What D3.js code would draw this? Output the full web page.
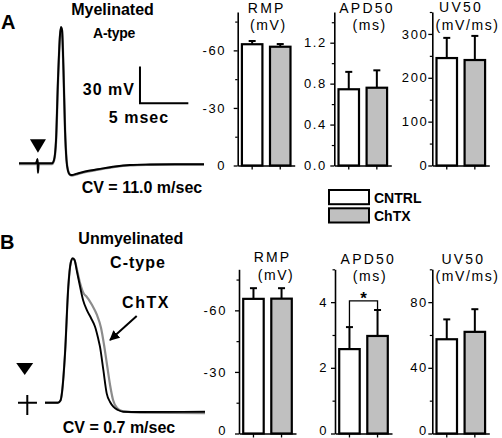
<!DOCTYPE html>
<html><head><meta charset="utf-8">
<script src="https://cdn.jsdelivr.net/npm/d3@7"></script>
<style>
body{margin:0;background:#fff}
svg{display:block;font-family:"Liberation Sans",Arial,Helvetica,sans-serif}
</style></head><body>
<svg id="c" width="502" height="438"></svg>
<script>
// ---------------- DATA ----------------
const groups = ["CNTRL", "ChTX"];

// Panel A (myelinated A-type) bar values: mean and SEM
const rmpA = [-63.2, -61.9], rmpA_err = [1.7, 1.4];
const apdA = [0.745, 0.76], apdA_err = [0.17, 0.17];
const uvA = [245, 240.5], uvA_err = [46, 55];
// Panel B (unmyelinated C-type)
const rmpB = [-65.6, -65.7], rmpB_err = [5.2, 5.1];
const apdB = [2.57, 2.97], apdB_err = [0.67, 0.79];
const uvB = [57.4, 61.9], uvB_err = [12.1, 13.8];

// Axis ticks
const rmpTicks = [0, -30, -60], rmpMinor = [-15, -45, -75];
const apdATicks = [0, 0.4, 0.8, 1.2], apdAMinor = [0.2, 0.6, 1.0, 1.4];
const uvATicks = [0, 100, 200, 300], uvAMinor = [50, 150, 250, 350];
const apdBTicks = [0, 2, 4], apdBMinor = [1, 3, 5];
const uvBTicks = [0, 40, 80], uvBMinor = [20, 60, 100];

// Action potential traces: [time (ms), voltage rel. rest (mV)]
const traceA_ctl = [[0,0],[1.76,0],[1.92,3.5],[1.96,-7.7],[2.03,0],[3.41,0],[3.62,2.7],[3.83,19],[4.03,68],[4.24,105],[4.34,111.4],[4.45,109],[4.60,76],[4.76,27],[4.91,2.7],[5.07,-6.3],[5.27,-9.2],[5.48,-9.6],[5.89,-8.7],[6.83,-6.7],[8.17,-4.9],[9.93,-2.6],[11.48,-1.4],[13.55,-1.0],[16.13,-0.8],[19.13,-0.8]];
const traceA_chtx = [[0,-0.6],[1.76,-0.6],[1.92,3],[1.96,-7.5],[2.03,-0.6],[3.41,-0.6],[3.62,2.2],[3.83,18],[4.03,66],[4.24,104],[4.34,110.5],[4.45,108.5],[4.60,76],[4.76,28],[4.91,3.2],[5.07,-6],[5.27,-9.4],[5.48,-10.0],[5.89,-9.2],[6.83,-7.2],[8.17,-5.2],[9.93,-2.9],[11.48,-1.7],[13.55,-1.2],[16.13,-1.0],[19.13,-1.0]];
const traceB_ctl = [[0,0],[1.08,0],[1.29,1.8],[1.42,8.9],[1.67,41.4],[1.94,96.4],[2.14,116.4],[2.31,120.3],[2.46,118.9],[2.67,108.9],[2.92,96.7],[3.17,85.6],[3.48,77.3],[3.83,70.6],[4.17,63.3],[4.42,53.9],[4.58,46.7],[4.86,27.3],[5.14,7.8],[5.42,0.6],[5.69,-3.3],[6.08,-6.1],[6.53,-7.5],[7.92,-7.75],[13.33,-7.5]];
const traceB_chtx = [[0,0],[1.08,0],[1.29,1.8],[1.42,8.9],[1.67,41.4],[1.94,96.4],[2.14,116.4],[2.31,120.3],[2.46,118.9],[2.67,110.6],[2.92,99.8],[3.25,90.6],[3.42,88.9],[3.92,81.4],[4.33,73.1],[4.67,62.3],[4.92,48.1],[5.17,31.4],[5.42,14.8],[5.67,2.25],[6.0,-4.4],[6.5,-7.3],[7.92,-8.3],[13.33,-8.8]];

// ---------------- DRAW ----------------
const svg = d3.select("#c");
const BAR_GRAY = "#c0c0c0";
const TRACE_GRAY = "#8c8c8c";

function txt(x, y, s, opt) {
  opt = opt || {};
  return svg.append("text").attr("x", x).attr("y", y).text(s)
    .attr("font-size", opt.size || 16)
    .attr("font-weight", opt.weight || "bold")
    .attr("text-anchor", opt.anchor || "start")
    .style("letter-spacing", (opt.ls || 0) + "px")
    .attr("fill", "#000");
}

// ---- Panel A trace ----
const xA = d3.scaleLinear().domain([0, 19.13]).range([19, 204]);
const yA = d3.scaleLinear().domain([0, 30]).range([163.3, 126.6]);
const lineA = d3.line().x(d => xA(d[0])).y(d => yA(d[1])).curve(d3.curveMonotoneX);
svg.append("path").attr("d", lineA(traceA_chtx)).attr("fill", "none").attr("stroke", TRACE_GRAY).attr("stroke-width", 2.4);
svg.append("path").attr("d", lineA(traceA_ctl)).attr("fill", "none").attr("stroke", "#000").attr("stroke-width", 1.9);

// stimulus triangle A
(function(){
  const cx = xA(1.96), tip = yA(8.7), top = yA(19.6);
  svg.append("path").attr("d", `M${cx-8},${top}L${cx+8},${top}L${cx},${tip}Z`).attr("fill", "#000");
})();

// scale bar (5 ms, 30 mV)
(function(){
  const t0 = 12.51, v0 = 49.05;
  svg.append("path")
    .attr("d", `M${xA(t0)},${yA(v0+30)}V${yA(v0)}H${xA(t0+5)}`)
    .attr("fill", "none").attr("stroke", "#000").attr("stroke-width", 2);
})();
txt(135, 95, "30 mV", {anchor: "end", ls: 1});
txt(139, 123, "5 msec", {anchor: "middle", ls: 1});

txt(1, 28.5, "A", {size: 20});
txt(112.5, 15, "Myelinated", {anchor: "middle"});
txt(114, 38.3, "A-type", {anchor: "middle", size: 14, ls: -0.3});
txt(81.7, 193.3, "CV = 11.0 m/sec");

// ---- Panel B trace ----
const xB = d3.scaleLinear().domain([0, 13.33]).range([45, 205]);
const yB = d3.scaleLinear().domain([0, 100]).range([402.7, 282.7]);
const lineB = d3.line().x(d => xB(d[0])).y(d => yB(d[1])).curve(d3.curveMonotoneX);
svg.append("path").attr("d", lineB(traceB_chtx)).attr("fill", "none").attr("stroke", TRACE_GRAY).attr("stroke-width", 2.2);
svg.append("path").attr("d", lineB(traceB_ctl)).attr("fill", "none").attr("stroke", "#000").attr("stroke-width", 1.9);

// stimulus cross + triangle B
svg.append("path")
  .attr("d", `M${xB(-1.475)},${yB(6.4)}V${yB(-10.25)}M${xB(-2.25)},${yB(0)}H${xB(-0.67)}`)
  .attr("fill", "none").attr("stroke", "#000").attr("stroke-width", 2);
(function(){
  const cx = xB(-1.69), tip = yB(23.1), top = yB(33);
  svg.append("path").attr("d", `M${cx-8.5},${top}L${cx+8.5},${top}L${cx},${tip}Z`).attr("fill", "#000");
})();

// arrow to ChTX trace
svg.append("defs").append("marker").attr("id", "ah")
  .attr("viewBox", "0 0 10 10").attr("refX", 9).attr("refY", 5)
  .attr("markerWidth", 5).attr("markerHeight", 5).attr("orient", "auto")
  .append("path").attr("d", "M0,0L10,5L0,10Z").attr("fill", "#000");
svg.append("line")
  .attr("x1", xB(7.64)).attr("y1", yB(72.25)).attr("x2", xB(5.42)).attr("y2", yB(52.25))
  .attr("stroke", "#000").attr("stroke-width", 2).attr("marker-end", "url(#ah)");

txt(0, 248.5, "B", {size: 20});
txt(130.8, 244, "Unmyelinated", {anchor: "middle"});
txt(138, 268.3, "C-type", {anchor: "middle", ls: 1});
txt(146, 308.3, "ChTX", {anchor: "middle", ls: 1.5});
txt(119, 433.3, "CV = 0.7 m/sec", {anchor: "middle"});

// ---- Bar panels ----
const panels = [
  {vals: rmpA, err: rmpA_err, ticks: rmpTicks, minor: rmpMinor, dom: [0, -80], ax: 237.7, y0: 165.5, y1: 12, pad: 7.5, fmt: d => String(d),
   t1: ["RMP", 266.7, 13.3], t2: ["(mV)", 268.3, 29.5], dy: "0.32em"},
  {vals: apdA, err: apdA_err, ticks: apdATicks, minor: apdAMinor, dom: [0, 1.5], ax: 334.3, y0: 165.5, y1: 12, pad: 3.5, fmt: d3.format(".1f"),
   t1: ["APD50", 367, 13.3], t2: ["(ms)", 369.7, 29.5], dy: "0.32em"},
  {vals: uvA, err: uvA_err, ticks: uvATicks, minor: uvAMinor, dom: [0, 350], ax: 432.3, y0: 165.5, y1: 12, pad: 0, fmt: d => String(d),
   t1: ["UV50", 461, 12], t2: ["(mV/ms)", 467.5, 29.5], dy: "0.32em"},
  {vals: rmpB, err: rmpB_err, ticks: rmpTicks, minor: rmpMinor, dom: [0, -80], ax: 239, y0: 433.5, y1: 269.3, pad: 8, fmt: d => String(d),
   t1: ["RMP", 272.5, 261.5], t2: ["(mV)", 276, 280], dy: "0.1em"},
  {vals: apdB, err: apdB_err, ticks: apdBTicks, minor: apdBMinor, dom: [0, 5], ax: 335, y0: 433.5, y1: 269.3, pad: 3, fmt: d => String(d),
   t1: ["APD50", 368.3, 263.5], t2: ["(ms)", 370, 281], sig: true, dy: "0.1em"},
  {vals: uvB, err: uvB_err, ticks: uvBTicks, minor: uvBMinor, dom: [0, 100], ax: 432.3, y0: 433.5, y1: 269.3, pad: 0.5, fmt: d => String(d),
   t1: ["UV50", 463.3, 263.5], t2: ["(mV/ms)", 467.5, 281], dy: "0.1em"}
];

panels.forEach(p => {
  const y = d3.scaleLinear().domain(p.dom).range([p.y0, p.y1]);
  const x = d3.scaleBand().domain(groups).range([p.ax, p.ax + 57]).paddingInner(0.27).paddingOuter(0.15);
  const g = svg.append("g");

  // bars
  groups.forEach((grp, i) => {
    const v = p.vals[i], e = p.err[i];
    const top = y(v), capY = y(v + Math.sign(v) * e);
    const cx = x(grp) + x.bandwidth() / 2;
    g.append("line").attr("x1", cx).attr("x2", cx).attr("y1", top).attr("y2", capY)
      .attr("stroke", "#000").attr("stroke-width", 2);
    g.append("line").attr("x1", cx - 3.5).attr("x2", cx + 3.5).attr("y1", capY).attr("y2", capY)
      .attr("stroke", "#000").attr("stroke-width", 2);
    g.append("rect").attr("x", x(grp)).attr("y", top).attr("width", x.bandwidth()).attr("height", y(0) - top)
      .attr("fill", i === 0 ? "#fff" : BAR_GRAY).attr("stroke", "#000").attr("stroke-width", 2.2);
  });

  // y axis
  const ya = g.append("g").attr("transform", `translate(${p.ax},0)`)
    .call(d3.axisLeft(y).tickValues(p.ticks).tickFormat(p.fmt).tickSize(4).tickSizeOuter(0).tickPadding(p.pad));
  ya.select(".domain").attr("stroke-width", 1.6);
  ya.selectAll(".tick line").attr("stroke-width", 1.3);
  ya.selectAll("text").attr("font-size", 13).attr("font-family", null).attr("fill", "#000")
    .attr("dy", d => (d === 0 ? p.dy : "0.32em")).style("letter-spacing", "1.6px");
  const ym = g.append("g").attr("transform", `translate(${p.ax},0)`)
    .call(d3.axisLeft(y).tickValues(p.minor).tickFormat("").tickSize(2.5).tickSizeOuter(0));
  ym.select(".domain").remove();
  ym.selectAll(".tick line").attr("stroke-width", 1.2);

  // x axis
  const xa = g.append("g").attr("transform", `translate(0,${p.y0})`)
    .call(d3.axisBottom(x).tickFormat("").tickSize(4).tickSizeOuter(0));
  xa.select(".domain").attr("stroke-width", 1.6);
  xa.selectAll(".tick line").attr("stroke-width", 1.3);

  // titles
  txt(p.t1[1], p.t1[2], p.t1[0], {anchor: "middle", size: 14, weight: "normal", ls: 2.2});
  txt(p.t2[1], p.t2[2], p.t2[0], {anchor: "middle", size: 14, weight: "normal", ls: 1.6});

  // significance bracket
  if (p.sig) {
    const c0 = x(groups[0]) + x.bandwidth() / 2, c1 = x(groups[1]) + x.bandwidth() / 2;
    const cap0 = y(p.vals[0] + p.err[0]), cap1 = y(p.vals[1] + p.err[1]);
    const by = y(4.04);
    g.append("path").attr("d", `M${c0},${cap0}V${by}H${c1}V${cap1}`)
      .attr("fill", "none").attr("stroke", "#000").attr("stroke-width", 1.3);
    txt((c0 + c1) / 2, by + 3.5, "*", {anchor: "middle", size: 17});
  }
});

// ---- Legend ----
const legend = svg.append("g");
groups.forEach((grp, i) => {
  const yy = 190 + i * 18.3;
  legend.append("rect").attr("x", 329).attr("y", yy).attr("width", 40).attr("height", 14.2)
    .attr("fill", i === 0 ? "#fff" : BAR_GRAY).attr("stroke", "#000").attr("stroke-width", 2);
  txt(374, yy + 12.6, grp, {size: 14});
});
</script></body></html>
